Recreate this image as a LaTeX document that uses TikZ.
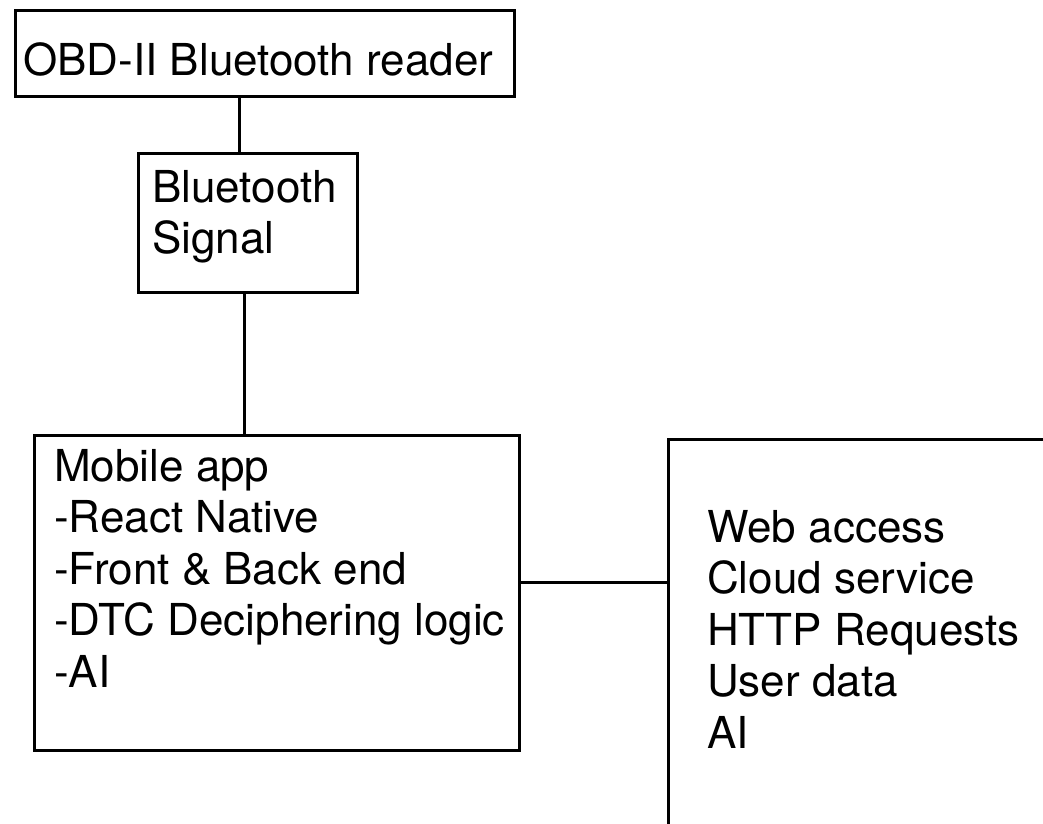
\documentclass[tikz,border=0pt]{standalone}
\usepackage{fontspec}
\setmainfont{TeX Gyre Heros}
\tikzset{
  box/.style={draw, line width=2.5pt, anchor=north west, inner sep=0pt},
  boxtext/.style={anchor=north west, inner sep=0pt, align=left,
    font=\fontsize{44}{51.5}\selectfont},
  link/.style={line width=2.5pt}
}
\begin{document}
\begin{tikzpicture}[x=1pt, y=-1pt]
  \useasboundingbox (0,0) rectangle (1043,823);
  \clip (0,0) rectangle (1043,823);
  % boxes
  \node[box, minimum width=499pt, minimum height=86pt] (obd) at (14,9) {};
  \node[box, minimum width=219pt, minimum height=139pt] (bt) at (137,152) {};
  \node[box, minimum width=485pt, minimum height=315pt] (app) at (33,434) {};
  \node[box, minimum width=500pt, minimum height=500pt] (web) at (667,438) {};
  % texts
  \node[boxtext] (obdtext) at (23,42) {OBD-II Bluetooth reader};
  \node[boxtext] (bttext) at (152,170) {Bluetooth\\Signal};
  \node[boxtext] (apptext) at (54,449) {Mobile app\\-React Native\\-Front \& Back end\\-DTC Deciphering logic\\-AI};
  \node[boxtext] (webtext) at (707,510) {Web access\\Cloud service\\HTTP Requests\\User data\\AI};
  % links
  \draw[link] ([xshift=-8.5pt]bt.north) -- ([xshift=-8.5pt]bt.north |- obd.south);
  \draw[link] ([xshift=-3.5pt]bt.south) -- ([xshift=-3.5pt]bt.south |- app.north);
  \draw[link] ([yshift=10.5pt]app.east) -- ([yshift=10.5pt]app.east -| web.west);
\end{tikzpicture}
\end{document}
